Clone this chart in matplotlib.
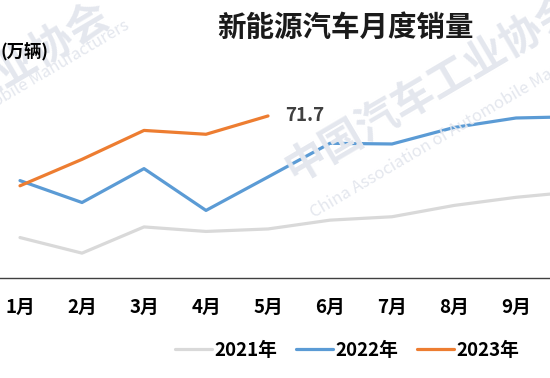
import matplotlib
matplotlib.use("Agg")
import matplotlib.pyplot as plt

plt.rcParams['font.family'] = ['Noto Sans CJK SC', 'DejaVu Sans']

# monthly NEV sales, 10k vehicles
months = ['1月', '2月', '3月', '4月', '5月', '6月', '7月', '8月', '9月', '10月', '11月', '12月']
sales_2021 = [17.9, 11.0, 22.6, 20.6, 21.7, 25.6, 27.1, 32.1, 35.7, 38.3, 45.0, 53.1]
sales_2022 = [43.1, 33.4, 48.4, 29.9, 44.7, 59.6, 59.3, 66.6, 70.8, 71.4, 78.6, 81.4]
sales_2023 = [40.8, 52.5, 65.3, 63.6, 71.7]

W, H = 550, 378
fig = plt.figure(figsize=(5.5, 3.78), dpi=100)

# the chart is cropped: plot area runs past both edges of the picture
ax = fig.add_axes([-11 / W, 100 / H, 744 / W, 226 / H])
ax.set_facecolor('none')

x21 = list(range(1, len(sales_2021) + 1))
x22 = list(range(1, len(sales_2022) + 1))
x23 = list(range(1, len(sales_2023) + 1))
ax.plot(x21, sales_2021, color='#D9D9D9', lw=2.3, label='2021年', solid_capstyle='round')
ax.plot(x22, sales_2022, color='#5B9BD5', lw=2.3, label='2022年', solid_capstyle='round')
ax.plot(x23, sales_2023, color='#ED7D31', lw=2.3, label='2023年', solid_capstyle='round')

ax.annotate(f'{sales_2023[-1]}', (x23[-1], sales_2023[-1]), xytext=(12, 0),
            textcoords='offset points', ha='left', va='center',
            fontsize=13.5, fontweight='bold', color='#404040')

ax.set_xlim(0.5, 12.5)
ax.set_ylim(0, 100)
ax.set_xticks(x22)
ax.set_xticklabels(months, fontsize=13.5, fontweight='bold')
ax.set_yticks([])
ax.tick_params(axis='x', length=0, pad=14)
for s in ['top', 'left', 'right']:
    ax.spines[s].set_visible(False)
ax.spines['bottom'].set_color('#404040')
ax.spines['bottom'].set_linewidth(1.0)

# months past the right edge of the crop are not shown
fig.canvas.draw()
for lbl in ax.get_xticklabels():
    bb = lbl.get_window_extent()
    if bb.x1 > W:
        lbl.set_visible(False)

leg = fig.legend(loc='center', bbox_to_anchor=(347 / W, 1 - 350 / H), ncol=3,
                 frameon=False, handlelength=2.0, handletextpad=0.1, columnspacing=1.0,
                 prop={'size': 13.5, 'weight': 'bold'})

fig.text(345 / W, 1 - 28 / H, '新能源汽车月度销量', ha='center', va='center',
         fontsize=20.5, fontweight='bold', color='#1A1A1A')
fig.text(0.5 / W, 1 - 52 / H, '(万辆)', ha='left', va='center',
         fontsize=12.5, fontweight='bold', color='black')

# watermark
wm = '#E4E7EE'
fig.text(288 / W, 1 - 172 / H, '中国汽车工业协会', rotation=30.5, rotation_mode='anchor',
         ha='left', va='center', fontsize=30, fontweight='bold', color=wm, zorder=0)
fig.text(312 / W, 1 - 214 / H, 'China Association of Automobile Manufacturers',
         rotation=30.5, rotation_mode='anchor', ha='left', va='center',
         fontsize=12, color=wm, zorder=0)
fig.text(106 / W, 1 - 12 / H, '中国汽车工业协会', rotation=30.5, rotation_mode='anchor',
         ha='right', va='center', fontsize=30, fontweight='bold', color=wm, zorder=0)
fig.text(128 / W, 1 - 24 / H, 'China Association of Automobile Manufacturers',
         rotation=30.5, rotation_mode='anchor', ha='right', va='center',
         fontsize=12, color=wm, zorder=0)

fig.savefig('out.png', dpi=100)
